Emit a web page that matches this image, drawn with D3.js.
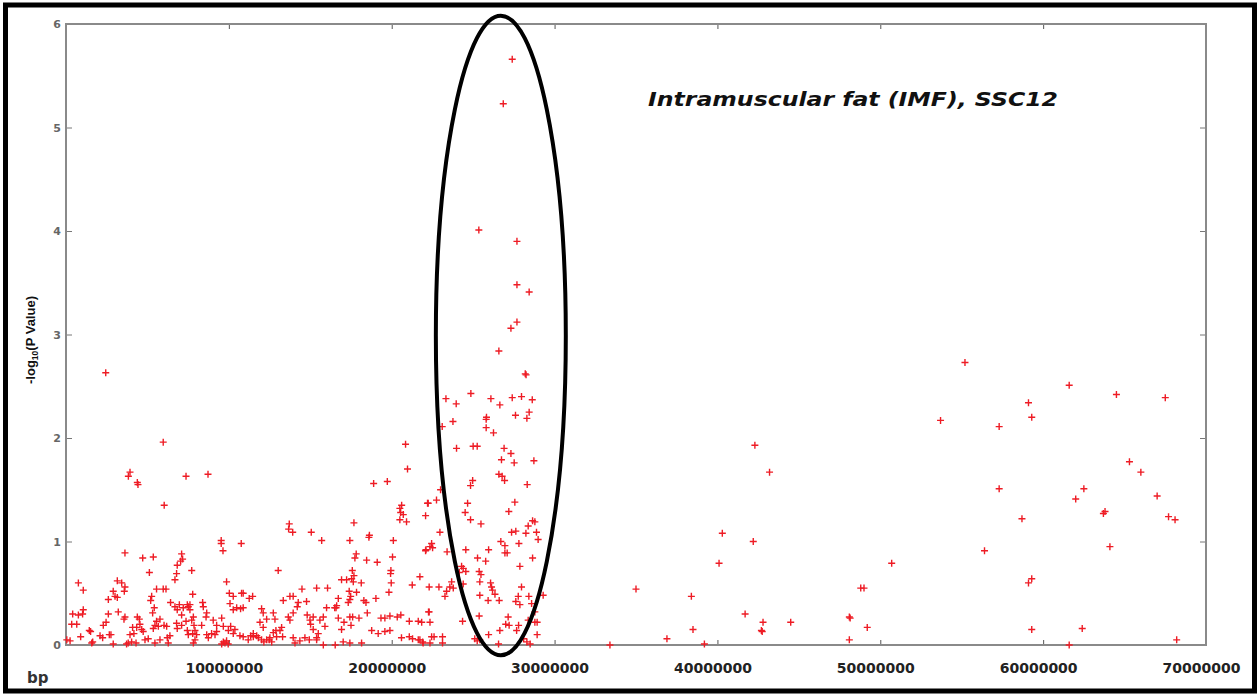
<!DOCTYPE html>
<html>
<head>
<meta charset="utf-8">
<script src="https://cdn.jsdelivr.net/npm/d3@7"></script>
<style>
  body { margin: 0; background: #fff; }
  svg { display: block; }
</style>
</head>
<body>
<svg width="1260" height="696"></svg>
<script>
// SNP positions (Mb) and -log10(P) on SSC12
var leftPoints = [
  [2.44,2.63],[5.97,1.96],[20.85,1.94],[20.97,1.70],[3.93,1.67],[3.83,1.63],[4.38,1.57],[4.42,1.55],[7.37,1.63],[8.72,1.65],
  [18.89,1.56],[19.73,1.58],[6.03,1.35],[20.61,1.35],[20.5,1.32],[20.55,1.28],[20.71,1.26],[20.5,1.21],[20.91,1.19],[22.24,1.37],
  [22.1,0.92],[22.35,0.95],[22.3,0.56],[21.26,0.58],[20.1,1.01],[20.05,0.85],[19.95,0.72],[19.93,0.69],[19.97,0.60],[19.83,0.51],
  [18.6,1.04],[18.63,1.06],[19.11,0.80],[17.43,1.01],[17.68,1.18],[17.82,0.88],[17.74,0.84],[17.58,0.72],[17.68,0.67],[17.54,0.64],
  [17.64,0.61],[18.13,0.60],[18.46,0.82],[17.39,0.52],[17.48,0.47],[17.43,0.44],[17.33,0.41],[17.84,0.51],[18.29,0.43],[18.42,0.41],
  [19.03,0.45],[18.5,0.31],[19.34,0.26],[19.58,0.26],[19.89,0.28],[20.34,0.27],[20.56,0.29],[21.08,0.23],[21.63,0.23],[22.3,0.32],
  [18.77,0.14],[19.17,0.11],[19.58,0.13],[19.89,0.14],[20.6,0.07],[21.08,0.08],[21.28,0.06],[21.63,0.05],[21.9,0.03],[18.15,0.02],
  [17.5,0.19],[17.6,0.27],[16.92,0.15],[17.07,0.22],[16.72,0.26],[16.58,0.36],[16.0,0.36],[16.5,0.36],[16.62,0.38],[17.43,0.27],
  [17.99,0.26],[15.9,0.18],[15.59,0.24],[15.8,0.27],[15.49,0.11],[15.39,0.07],[15.18,0.15],[15.02,0.20],[14.98,0.24],[14.81,0.29],
  [15.18,0.27],[15.39,0.55],[16.06,0.55],[14.49,0.54],[15.06,1.09],[15.7,1.01],[13.71,1.17],[13.92,1.09],[13.67,1.12],[13.03,0.72],
  [13.75,0.47],[13.95,0.47],[13.34,0.43],[14.26,0.41],[14.77,0.42],[14.2,0.37],[13.95,0.31],[13.75,0.24],[13.65,0.27],[13.24,0.17],
  [13.14,0.14],[12.73,0.12],[12.89,0.14],[12.52,0.07],[12.11,0.17],[11.91,0.22],[12.32,0.25],[12.01,0.35],[12.73,0.31],[12.83,0.25],
  [11.5,0.08],[11.81,0.07],[12.01,0.05],[12.32,0.05],[12.48,0.05],[12.15,0.03],[12.63,0.03],[12.93,0.08],[13.3,0.08],[13.95,0.07],
  [14.06,0.02],[14.36,0.04],[14.67,0.07],[14.94,0.05],[15.39,0.05],[15.8,0.0],[16.53,0.0],[17.02,0.03],[17.43,0.02],[10.76,0.98],
  [9.53,1.01],[9.53,0.98],[9.64,0.91],[10.78,0.50],[10.88,0.50],[10.72,0.35],[10.88,0.36],[9.86,0.61],[10.03,0.50],[10.07,0.40],
  [10.27,0.34],[10.48,0.36],[9.56,0.26],[9.66,0.18],[10.11,0.18],[10.37,0.15],[9.97,0.14],[10.27,0.11],[10.68,0.09],[10.88,0.08],
  [11.19,0.05],[11.34,0.09],[11.5,0.11],[11.71,0.09],[9.66,0.03],[9.76,0.02],[9.86,0.04],[9.56,0.01],[9.96,0.01],[9.15,0.10],
  [9.25,0.13],[8.94,0.11],[8.64,0.10],[8.74,0.07],[7.82,0.27],[7.72,0.24],[7.86,0.19],[7.92,0.14],[7.78,0.11],[8.02,0.10],
  [7.92,0.05],[7.82,0.02],[8.39,0.41],[8.43,0.37],[7.45,0.39],[7.61,0.39],[7.51,0.37],[7.61,0.34],[7.78,0.49],[6.83,0.34],
  [6.96,0.39],[7.2,0.36],[7.1,0.29],[6.69,0.37],[6.42,0.41],[7.72,0.72],[7.1,0.88],[7.04,0.81],[7.16,0.83],[6.83,0.77],
  [6.79,0.69],[6.69,0.63],[5.97,0.54],[6.14,0.54],[5.56,0.54],[5.36,0.85],[4.71,0.84],[5.12,0.70],[5.26,0.47],[5.2,0.43],
  [5.42,0.36],[5.32,0.31],[5.56,0.23],[5.77,0.25],[5.67,0.18],[5.46,0.19],[5.36,0.16],[6.02,0.19],[6.18,0.18],[6.22,0.07],
  [6.38,0.09],[5.77,0.05],[5.46,0.02],[6.28,0.02],[6.79,0.21],[6.83,0.16],[7.1,0.19],[7.37,0.23],[8.33,0.19],[7.45,0.14],
  [7.51,0.10],[4.38,0.27],[4.5,0.25],[4.54,0.20],[4.34,0.17],[4.65,0.15],[4.09,0.17],[4.17,0.11],[4.03,0.03],[4.3,0.02],
  [3.82,0.02],[3.72,0.01],[4.74,0.13],[5.05,0.06],[4.85,0.05],[3.62,0.89],[3.15,0.62],[3.42,0.60],[3.62,0.56],[3.58,0.52],
  [2.9,0.52],[3.01,0.47],[3.15,0.46],[2.6,0.44],[3.21,0.32],[2.6,0.30],[2.66,0.10],[2.76,0.10],[2.29,0.19],[2.46,0.22],
  [2.25,0.07],[2.09,0.09],[1.64,0.03],[1.58,0.02],[1.43,0.14],[1.51,0.13],[1.06,0.34],[1.02,0.30],[0.76,0.29],[0.41,0.30],
  [0.66,0.20],[0.35,0.20],[0.76,0.60],[1.06,0.53],[0.9,0.08],[0.25,0.04],[0.05,0.05],[3.62,0.27],[3.56,0.25],[2.9,0.01],
  [3.93,0.10],[8.6,0.27],[8.64,0.31],[9.04,0.24],[9.25,0.19],[10.27,0.47],[11.46,0.47],[11.25,0.45],[12.11,0.31],[16.92,0.63],
  [17.23,0.63],[16.72,0.45]
];

var peakPoints = [
  [27.4,5.66],[26.85,5.23],[25.35,4.01],[27.69,3.90],[27.69,3.48],[28.44,3.41],[27.69,3.12],[27.32,3.06],[26.58,2.84],[28.2,2.62],
  [28.25,2.61],[24.86,2.43],[23.33,2.38],[23.96,2.33],[26.09,2.38],[26.64,2.32],[27.4,2.39],[27.97,2.40],[28.63,2.37],[27.6,2.22],
  [28.44,2.25],[28.3,2.19],[23.76,2.16],[25.8,2.18],[25.82,2.20],[25.8,2.10],[26.25,2.05],[23.1,2.11],[23.98,1.90],[25.0,1.92],
  [25.25,1.92],[26.9,1.90],[27.32,1.85],[26.74,1.79],[27.52,1.76],[28.73,1.78],[26.58,1.65],[26.78,1.63],[26.93,1.59],[24.97,1.59],
  [24.84,1.54],[28.32,1.55],[23.0,1.50],[22.75,1.40],[22.2,1.37],[24.66,1.37],[27.56,1.38],[24.51,1.28],[27.19,1.29],[22.08,1.25],
  [24.84,1.21],[25.48,1.17],[28.65,1.20],[28.79,1.19],[28.38,1.15],[27.36,1.09],[27.62,1.10],[28.24,1.08],[28.89,1.09],[28.99,1.02],
  [22.96,1.09],[26.7,1.0],[27.81,0.98],[26.95,0.96],[22.45,0.98],[22.51,0.94],[22.08,0.91],[24.55,0.92],[25.95,0.92],[26.95,0.89],
  [27.09,0.89],[23.4,0.90],[25.27,0.84],[25.77,0.81],[28.65,0.84],[27.87,0.76],[24.29,0.76],[24.39,0.74],[24.15,0.70],[24.55,0.71],
  [25.37,0.71],[25.48,0.68],[21.73,0.66],[24.39,0.59],[25.41,0.61],[26.07,0.60],[26.13,0.56],[26.19,0.53],[27.97,0.56],[23.68,0.61],
  [23.57,0.56],[23.37,0.52],[23.27,0.47],[23.78,0.55],[22.9,0.56],[26.34,0.49],[25.41,0.48],[25.92,0.43],[26.6,0.43],[27.77,0.47],
  [28.42,0.47],[27.62,0.42],[27.87,0.39],[28.59,0.40],[29.3,0.48],[28.79,0.32],[22.26,0.32],[25.37,0.28],[27.15,0.27],[27.21,0.19],
  [27.0,0.20],[27.79,0.19],[28.38,0.24],[28.79,0.22],[28.93,0.22],[24.35,0.23],[22.35,0.22],[21.84,0.22],[26.64,0.14],[27.67,0.14],
  [28.93,0.10],[25.1,0.06],[25.25,0.04],[25.41,0.05],[25.95,0.10],[26.56,0.01],[28.1,0.06],[28.3,0.03],[28.5,0.01],[21.73,0.05],
  [21.93,0.02],[22.45,0.08],[22.6,0.08],[23.12,0.08],[23.12,0.02],[22.35,0.02]
];

var rightPoints = [
  [33.4,0.0],[35.0,0.54],[36.9,0.06],[38.4,0.47],[38.5,0.15],[39.2,0.01],[40.3,1.08],[40.1,0.79],[41.7,0.30],[42.2,1.0],
  [42.3,1.93],[42.8,0.22],[42.7,0.14],[42.75,0.13],[43.2,1.67],[44.5,0.22],[48.1,0.27],[48.15,0.26],[48.1,0.05],[48.8,0.55],
  [49.0,0.55],[49.2,0.17],[50.7,0.79],[53.7,2.17],[55.2,2.73],[56.4,0.91],[57.3,1.51],[57.3,2.11],[58.7,1.22],[59.1,0.6],
  [59.3,0.64],[59.1,2.34],[59.3,2.2],[59.3,0.15],[61.6,2.51],[61.6,0.0],[62.0,1.41],[62.5,1.51],[62.4,0.16],[63.7,1.27],
  [63.8,1.29],[64.1,0.95],[64.5,2.42],[65.3,1.77],[66.0,1.67],[67.0,1.44],[67.5,2.39],[67.7,1.24],[68.1,1.21],[68.2,0.05]
];

var xTicks = [10000000, 20000000, 30000000, 40000000, 50000000, 60000000, 70000000];
var yTicks = [0, 1, 2, 3, 4, 5, 6];
var title = "Intramuscular fat (IMF), SSC12";

// highlighted region (ellipse) in data units: centre Mb, centre -log10P, half-width Mb, half-height
var highlight = { cx: 26.7, cy: 2.99, rx: 3.99, ry: 3.09 };

var svg = d3.select("svg"),
    margin = { top: 24, right: 54, bottom: 51, left: 66 },
    width = +svg.attr("width"),
    height = +svg.attr("height");

var x = d3.scaleLinear()
    .domain([0, 70000000])
    .range([margin.left, width - margin.right]);

var y = d3.scaleLinear()
    .domain([0, 6])
    .range([height - margin.bottom, margin.top]);

// outer black frame
svg.append("rect")
    .attr("x", 5.5).attr("y", 5)
    .attr("width", width - 11).attr("height", height - 10)
    .attr("fill", "none")
    .attr("stroke", "#000")
    .attr("stroke-width", 5);

// y axis, left (labels) and right (ticks only)
var yAxis = svg.append("g")
    .attr("class", "y axis")
    .attr("transform", "translate(" + margin.left + ",0)")
    .call(d3.axisLeft(y).tickValues(yTicks).tickSize(-6).tickPadding(5).tickFormat(d3.format("d")));
yAxis.select(".domain").remove();
yAxis.selectAll("line").attr("stroke", "#777");
yAxis.selectAll("text")
    .attr("fill", "#666")
    .style("font", "bold 11px 'DejaVu Sans', sans-serif");

var yAxisR = svg.append("g")
    .attr("transform", "translate(" + (width - margin.right) + ",0)")
    .call(d3.axisRight(y).tickValues(yTicks).tickSize(-6).tickFormat(""));
yAxisR.select(".domain").remove();
yAxisR.selectAll("line").attr("stroke", "#777");

// x axis, bottom (labels) and top (ticks only)
var xAxis = svg.append("g")
    .attr("class", "x axis")
    .attr("transform", "translate(0," + (height - margin.bottom) + ")")
    .call(d3.axisBottom(x).tickValues(xTicks).tickSize(-5).tickPadding(18).tickFormat(d3.format("d")));
xAxis.select(".domain").remove();
xAxis.selectAll("line").attr("stroke", "#555");
xAxis.selectAll("text")
    .attr("dx", -5)
    .attr("fill", "#222")
    .style("font", "bold 14px 'DejaVu Sans', sans-serif");

var xAxisT = svg.append("g")
    .attr("transform", "translate(0," + margin.top + ")")
    .call(d3.axisTop(x).tickValues(xTicks).tickSize(-5).tickFormat(""));
xAxisT.select(".domain").remove();
xAxisT.selectAll("line").attr("stroke", "#555");

// plot frame
svg.append("rect")
    .attr("x", x(0)).attr("y", y(6))
    .attr("width", x(70000000) - x(0))
    .attr("height", y(0) - y(6))
    .attr("fill", "none")
    .attr("stroke", "#8a8a8a")
    .attr("stroke-width", 2);

// points as red plus signs
var allPoints = leftPoints.concat(peakPoints, rightPoints);
var plus = "M-3.5,0H3.5M0,-3.5V3.5";

svg.append("g")
    .selectAll("path")
    .data(allPoints)
    .enter()
    .append("path")
    .attr("d", plus)
    .attr("transform", function(d) {
        return "translate(" + x(d[0] * 1e6) + "," + y(d[1]) + ")";
    })
    .attr("stroke", "#ee1c25")
    .attr("stroke-width", 1.4)
    .attr("fill", "none");

// highlight ellipse
svg.append("ellipse")
    .attr("cx", x(highlight.cx * 1e6))
    .attr("cy", y(highlight.cy))
    .attr("rx", x(highlight.rx * 1e6) - x(0))
    .attr("ry", y(0) - y(highlight.ry))
    .attr("fill", "none")
    .attr("stroke", "#000")
    .attr("stroke-width", 4);

// title (source text is stretched horizontally)
svg.append("text")
    .attr("x", 648)
    .attr("y", 106)
    .attr("fill", "#111")
    .attr("textLength", 410)
    .attr("lengthAdjust", "spacingAndGlyphs")
    .style("font", "italic bold 20px 'DejaVu Sans', sans-serif")
    .text(title);

// axis titles
var yLabel = svg.append("text")
    .attr("transform", "translate(35,340) rotate(-90)")
    .attr("text-anchor", "middle")
    .attr("fill", "#111")
    .style("font", "bold 13px 'Liberation Sans', Arial, sans-serif");
yLabel.append("tspan").text("-log");
yLabel.append("tspan").attr("dy", 3).style("font-size", "8.5px").text("10");
yLabel.append("tspan").attr("dy", -3).text("(P Value)");

svg.append("text")
    .attr("x", 27)
    .attr("y", 683)
    .attr("fill", "#333")
    .style("font", "bold 15px 'DejaVu Sans', sans-serif")
    .text("bp");
</script>
</body>
</html>
